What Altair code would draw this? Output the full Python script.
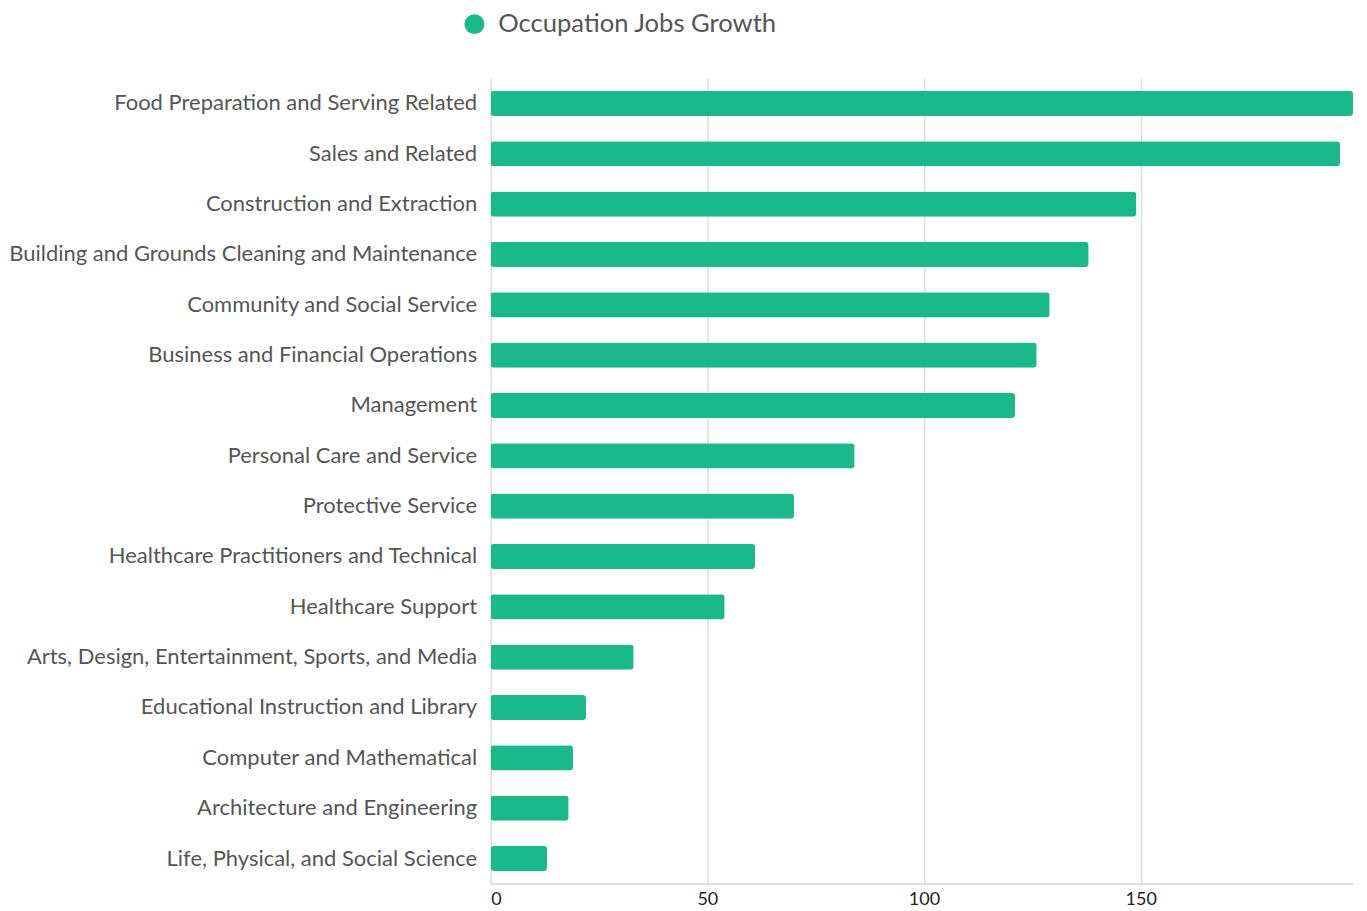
import altair as alt
import pandas as pd

categories = [
    "Food Preparation and Serving Related",
    "Sales and Related",
    "Construction and Extraction",
    "Building and Grounds Cleaning and Maintenance",
    "Community and Social Service",
    "Business and Financial Operations",
    "Management",
    "Personal Care and Service",
    "Protective Service",
    "Healthcare Practitioners and Technical",
    "Healthcare Support",
    "Arts, Design, Entertainment, Sports, and Media",
    "Educational Instruction and Library",
    "Computer and Mathematical",
    "Architecture and Engineering",
    "Life, Physical, and Social Science",
]
values = [199, 196, 149, 138, 129, 126, 121, 84, 70, 61, 54, 33, 22, 19, 18, 13]
series = "Occupation Jobs Growth"

df = pd.DataFrame({"occupation": categories, "growth": values, "series": [series] * len(values)})

chart = alt.Chart(df).mark_bar(cornerRadius=3, color="#1AB98A").encode(
    y=alt.Y("occupation:N", sort=categories, title=None,
            scale=alt.Scale(paddingInner=0.5, paddingOuter=0.25),
            axis=alt.Axis(labelFont="Lato", labelFontSize=22, labelColor="#555555",
                          labelPadding=14, ticks=False, domain=False, grid=False,
                          labelLimit=600)),
    x=alt.X("growth:Q", title=None,
            scale=alt.Scale(domain=[0, 199], nice=False),
            axis=alt.Axis(values=[0, 50, 100, 150], labelFont="Lato", labelFontSize=18,
                          labelColor="#222222", ticks=False, domainColor="#dddddd",
                          domainWidth=2, gridColor="#dddddd", gridWidth=1.5, labelPadding=7)),
    color=alt.Color("series:N", scale=alt.Scale(range=["#1AB98A"]),
                    legend=alt.Legend(title=None, orient="none", legendX=-29, legendY=-67,
                                      symbolType="circle", symbolSize=400,
                                      labelFont="Lato", labelFontSize=25.6, labelLimit=800,
                                      labelColor="#555555", labelOffset=11)),
).properties(
    width=863, height=806, padding={"left": 0, "top": 3, "right": 6, "bottom": 0}
).configure_view(stroke=None)

chart.save("out.html", embed_options={"renderer": "svg", "actions": False})
